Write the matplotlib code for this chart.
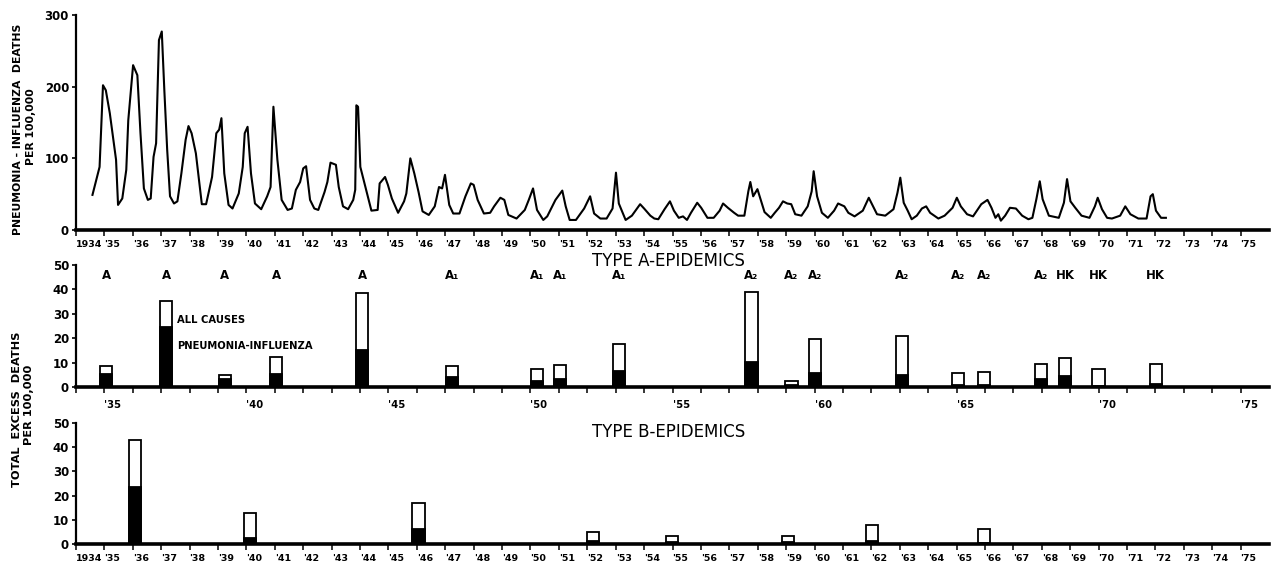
import matplotlib
matplotlib.use('Agg')
import matplotlib.pyplot as plt

W, H = 1271, 569

# monthly-ish pneumonia-influenza death rate
death_years = [
    1934.58, 1934.83, 1934.95, 1935.05, 1935.19, 1935.41, 1935.48,
    1935.63, 1935.77, 1935.84, 1936.01, 1936.16, 1936.27, 1936.39, 1936.53,
    1936.63, 1936.73, 1936.82, 1936.92, 1937.02, 1937.11, 1937.21, 1937.31, 1937.45,
    1937.57, 1937.71, 1937.86, 1937.96, 1938.07, 1938.22, 1938.36, 1938.43,
    1938.58, 1938.79, 1938.94, 1939.04, 1939.12, 1939.22, 1939.37, 1939.51,
    1939.73, 1939.87, 1939.94, 1940.04, 1940.16, 1940.30, 1940.52,
    1940.73, 1940.85, 1940.95, 1941.09, 1941.24, 1941.45,
    1941.60, 1941.74, 1941.89, 1942.00, 1942.10, 1942.24, 1942.39, 1942.53,
    1942.75, 1942.85, 1942.96, 1943.15, 1943.25, 1943.40, 1943.58,
    1943.76, 1943.83, 1943.87, 1943.93, 1944.01, 1944.19, 1944.40,
    1944.62, 1944.69, 1944.88, 1944.98, 1945.12, 1945.34,
    1945.55, 1945.63, 1945.77, 1945.91, 1946.06, 1946.20, 1946.42,
    1946.63, 1946.78, 1946.89, 1946.99, 1947.14, 1947.28, 1947.50,
    1947.71, 1947.90, 1948.00, 1948.14, 1948.36, 1948.58,
    1948.72, 1948.94, 1949.08, 1949.22, 1949.51,
    1949.80, 1949.94, 1950.09, 1950.23, 1950.45, 1950.59,
    1950.88, 1951.12, 1951.24, 1951.38, 1951.60,
    1951.89, 1952.10, 1952.24, 1952.46, 1952.68,
    1952.89, 1953.01, 1953.11,
    1953.35, 1953.57, 1953.86, 1954.00, 1954.22, 1954.36, 1954.50,
    1954.72, 1954.91, 1955.05, 1955.22, 1955.37, 1955.51,
    1955.65, 1955.87, 1956.01, 1956.23, 1956.45,
    1956.66, 1956.78, 1956.95, 1957.17, 1957.31, 1957.53,
    1957.67, 1957.74, 1957.84, 1957.99, 1958.10, 1958.24, 1958.46,
    1958.60, 1958.75, 1958.89, 1959.04, 1959.18, 1959.32, 1959.54,
    1959.76, 1959.90, 1959.97, 1960.09, 1960.26, 1960.47,
    1960.69, 1960.83, 1961.05, 1961.19, 1961.41,
    1961.70, 1961.91, 1962.06, 1962.20, 1962.49,
    1962.78, 1962.92, 1963.02, 1963.14, 1963.28, 1963.42,
    1963.60, 1963.78, 1963.93, 1964.07, 1964.36,
    1964.58, 1964.86, 1965.01, 1965.15, 1965.37, 1965.58,
    1965.87, 1966.09, 1966.23, 1966.37, 1966.47, 1966.56,
    1966.71, 1966.88, 1967.09, 1967.31, 1967.53,
    1967.67, 1967.81, 1967.93, 1968.03, 1968.25, 1968.60,
    1968.78, 1968.89, 1969.01, 1969.18, 1969.40, 1969.68,
    1969.87, 1969.97, 1970.12, 1970.30, 1970.47,
    1970.76, 1970.94, 1971.12, 1971.40, 1971.69,
    1971.83, 1971.91, 1972.02, 1972.20, 1972.37,
]
death_rate = [
    49, 88, 202, 195, 163, 98, 35,
    44, 84, 153, 230, 216, 135, 58, 42,
    44, 102, 121, 265, 277, 195, 112, 47, 37,
    40, 79, 126, 145, 135, 107, 60, 36,
    36, 74, 135, 140, 156, 79, 35, 30,
    51, 88, 135, 144, 79, 37, 29,
    47, 60, 172, 98, 42, 28,
    30, 56, 67, 86, 89, 42, 30, 28,
    53, 67, 94, 91, 60, 33, 29,
    42, 56, 174, 172, 88, 60, 27,
    28, 65, 74, 63, 44, 24,
    40, 51, 100, 79, 53, 26, 21,
    33, 60, 58, 77, 35, 23, 23,
    47, 65, 63, 42, 23, 24,
    33, 45, 42, 21, 16,
    28, 42, 58, 28, 14, 19,
    42, 55, 33, 14, 14,
    30, 47, 23, 16, 16,
    30, 80, 37,
    14, 20, 36, 30, 20, 16, 15,
    29, 40, 27, 17, 19, 14,
    24, 38, 31, 17, 17,
    27, 37, 31, 24, 20, 20,
    54, 67, 47, 57, 43, 25, 17,
    24, 31, 40, 37, 36, 22, 20,
    33, 54, 82, 47, 24, 17,
    27, 37, 33, 24, 19,
    27, 45, 33, 22, 20,
    29, 52, 73, 38, 27, 15,
    20, 30, 33, 24, 16,
    20, 31, 45, 33, 22, 19,
    36, 42, 31, 17, 22, 13,
    20, 31, 30, 20, 15,
    17, 43, 68, 43, 20, 17,
    38, 71, 40, 31, 20, 17,
    33, 45, 29, 17, 16,
    20, 33, 22, 16, 16,
    47, 50, 27, 17, 17,
]

# type A epidemics: excess deaths per 100,000
a_years = [1935.06, 1937.17, 1939.24, 1941.05, 1944.07, 1947.24, 1950.23, 1951.04, 1953.12,
           1957.78, 1959.19, 1960.01, 1963.09, 1965.06, 1965.97, 1967.97, 1968.82, 1970.0, 1972.01]
a_total = [8.8, 35.1, 4.9, 12.2, 38.5, 8.8, 7.2, 9.2, 17.7,
           38.8, 2.6, 19.7, 20.7, 5.8, 6.1, 9.6, 11.9, 7.2, 9.5]
a_pneu = [5.5, 24.5, 3.4, 5.5, 15.3, 4.2, 2.4, 3.1, 6.5,
          10.1, 0.8, 5.8, 5.1, 1.0, 1.0, 3.1, 4.7, 0.6, 1.3]
a_strain = ['A', 'A', 'A', 'A', 'A', 'A₁', 'A₁', 'A₁', 'A₁',
            'A₂', 'A₂', 'A₂', 'A₂', 'A₂', 'A₂', 'A₂', 'HK', 'HK', 'HK']

# type B epidemics
b_years = [1936.09, 1940.12, 1946.06, 1952.2, 1954.98, 1959.06, 1962.01, 1965.97]
b_total = [43, 13, 17, 5, 3.2, 3.2, 8, 6.4]
b_pneu = [23.6, 2.4, 6.1, 1.4, 1.0, 1.0, 1.4, 0.6]

years = list(range(1934, 1976))
full_labels = ['1934'] + ["'%02d" % (y % 100) for y in years[1:]]
five_years = list(range(1935, 1976, 5))
five_labels = ["'%02d" % (y % 100) for y in five_years]

plt.rcParams['font.family'] = 'DejaVu Sans'
plt.rcParams['font.weight'] = 'bold'

fig = plt.figure(figsize=(W / 100, H / 100), dpi=100)


def rect(top_px, bot_px):
    return [76 / W, 1 - bot_px / H, (1269 - 76) / W, (bot_px - top_px) / H]


def style(ax):
    for s in ['top', 'right']:
        ax.spines[s].set_visible(False)
    ax.spines['left'].set_linewidth(1.6)
    ax.spines['bottom'].set_linewidth(2.6)
    ax.set_xlim(1934, 1976)
    ax.tick_params(axis='y', length=3, width=1.2, pad=2, labelsize=8.5)
    ax.tick_params(axis='x', which='both', length=4, width=1.1, pad=3, labelsize=6.8)


ax1 = fig.add_axes(rect(15, 230))
ax2 = fig.add_axes(rect(265, 387))
ax3 = fig.add_axes(rect(423, 544))

for ax in (ax1, ax2, ax3):
    style(ax)

ax1.plot(death_years, death_rate, color='black', lw=1.5)
ax1.set_ylim(0, 300)
ax1.set_yticks([0, 100, 200, 300])

for ax in (ax1, ax3):
    ax.set_xticks(years)
    ax.set_xticklabels(full_labels, ha='left')

ax2.set_xticks(years, minor=True)
ax2.set_xticks(five_years)
ax2.set_xticklabels(five_labels, ha='left')
ax2.tick_params(axis='x', pad=5, labelsize=7.2)

w = 0.43
ax2.bar(a_years, a_total, width=w, color='white', edgecolor='black', lw=1.3, zorder=2)
ax2.bar(a_years, a_pneu, width=w, color='black', edgecolor='black', lw=1.3, zorder=3)
ax3.bar(b_years, b_total, width=w, color='white', edgecolor='black', lw=1.3, zorder=2)
ax3.bar(b_years, b_pneu, width=w, color='black', edgecolor='black', lw=1.3, zorder=3)

for ax in (ax2, ax3):
    ax.set_ylim(0, 50)
    ax.set_yticks([0, 10, 20, 30, 40, 50])

for x, s in zip(a_years, a_strain):
    ax2.text(x, 45.9, s, ha='center', va='center', fontsize=8.5)

ax2.text(1954.85, 51.6, 'TYPE A-EPIDEMICS', ha='center', va='center', fontsize=12,
         fontweight='normal', clip_on=False)
ax3.text(1954.85, 46.3, 'TYPE B-EPIDEMICS', ha='center', va='center', fontsize=12,
         fontweight='normal')
ax2.text(1937.57, 27.5, 'ALL CAUSES', ha='left', va='center', fontsize=7.2)
ax2.text(1937.57, 16.8, 'PNEUMONIA-INFLUENZA', ha='left', va='center', fontsize=7.2)

fig.text(18 / W, 1 - 129 / H, 'PNEUMONIA - INFLUENZA  DEATHS', rotation=90,
         ha='center', va='center', fontsize=7.8)
fig.text(31 / W, 1 - 127 / H, 'PER 100,000', rotation=90, ha='center', va='center', fontsize=7.8)
fig.text(17 / W, 1 - 409 / H, 'TOTAL  EXCESS  DEATHS', rotation=90,
         ha='center', va='center', fontsize=8.2)
fig.text(29 / W, 1 - 405 / H, 'PER 100,000', rotation=90, ha='center', va='center', fontsize=8.2)

fig.savefig('out.png', dpi=100)
